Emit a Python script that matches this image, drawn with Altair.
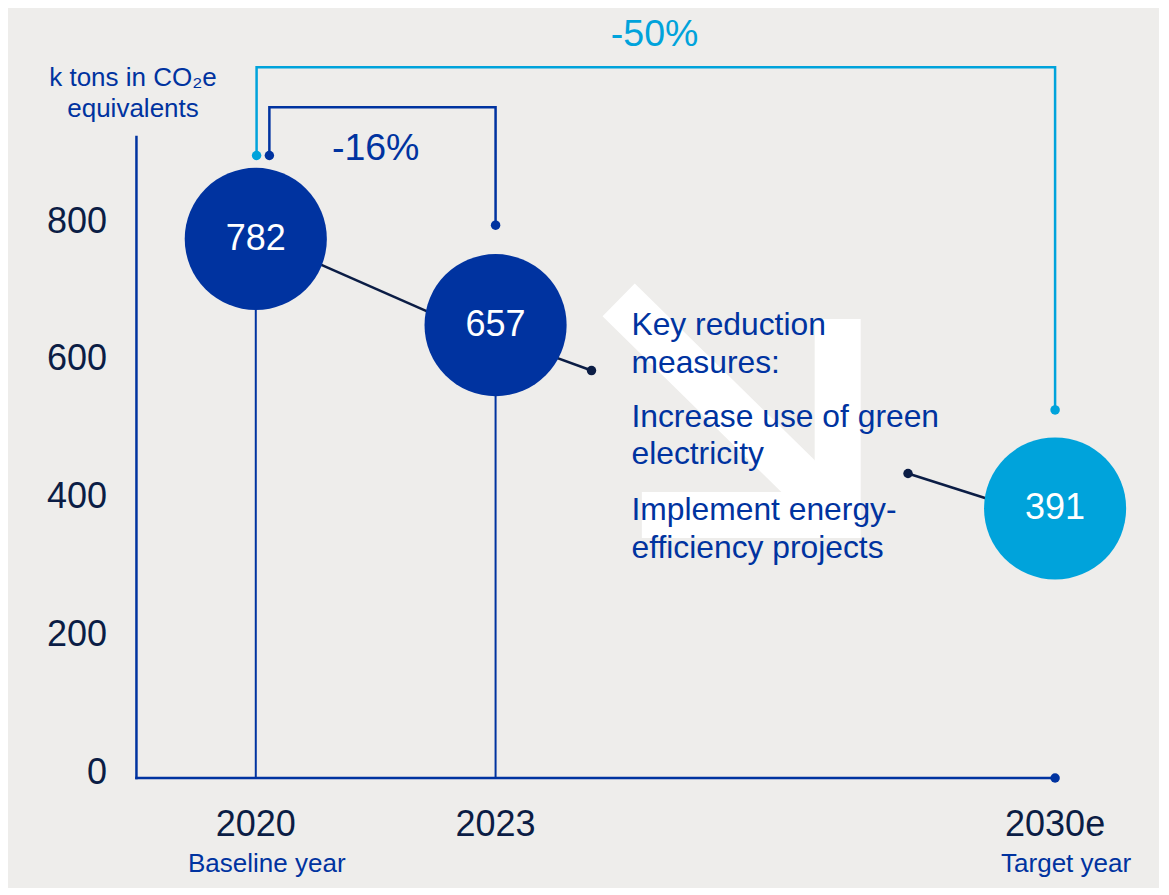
import altair as alt
import pandas as pd

# ---- data ----
years = [2020, 2023, 2030]
year_labels = ["2020", "2023", "2030e"]
year_notes = ["Baseline year", "", "Target year"]
emissions = [782, 657, 391]
circle_kind = ["actual", "actual", "target"]
y_ticks = [0, 200, 400, 600, 800]
y_title = "k tons in CO₂e\nequivalents"

# reduction brackets (data units)
b16_x = [2020.17, 2020.17, 2023.0, 2023.0]
b16_y = [903, 973, 973, 802]
b50_x = [2020.01, 2020.01, 2030.0, 2030.0]
b50_y = [903, 1031, 1031, 534]
pct_labels = ["-16%", "-50%"]
pct_kind = ["actual", "target"]
pct_x = [2021.5, 2024.99]
pct_y = [897, 1062]

# trend connectors
conn_group = ["a", "a", "b", "b", "c", "c"]
conn_x = [2020.7, 2022.3, 2023.5, 2024.2, 2028.16, 2029.3]
conn_y = [750.6, 668.8, 620.8, 591.1, 441.7, 399.6]
conn_dot_x = [2024.2, 2028.16]
conn_dot_y = [591.1, 441.7]

# decorative arrow
arrow_group = ["shaft", "shaft", "head", "head", "head"]
arrow_x = [2024.54, 2027.28, 2027.28, 2027.28, 2024.83]
arrow_y = [693.5, 381.5, 665.9, 381.5, 381.5]

measures = ["Key reduction\nmeasures:", "Increase use of green\nelectricity",
            "Implement energy-\nefficiency projects"]
measure_y = [642.7, 509.7, 374.5]
measure_x = [2024.70, 2024.70, 2024.70]

axis_x0 = 2018.507
axis_top = 930

# ---- styling ----
DARK = "#0033A0"
CYAN = "#00A3DB"
NAVY = "#0B1D45"
BG = "#EEEDEB"
FONT = "Liberation Sans"

xs = alt.Scale(domain=[2016.9, 2031.3], nice=False, zero=False)
ys = alt.Scale(domain=[0, 1117], nice=False, zero=False)
kind_scale = alt.Scale(domain=["actual", "target"], range=[DARK, CYAN])


def X(f):
    return alt.X(f, type="quantitative", scale=xs, axis=None)


def Y(f):
    return alt.Y(f, type="quantitative", scale=ys, axis=None)


main = pd.DataFrame({"year": years, "label": year_labels, "note": year_notes,
                     "value": emissions, "kind": circle_kind})

arrow_df = pd.DataFrame({"g": arrow_group, "x": arrow_x, "y": arrow_y,
                         "i": list(range(len(arrow_x)))})
arrow = alt.Chart(arrow_df).mark_line(color="white", strokeWidth=46, strokeCap="butt",
                                      strokeJoin="miter").encode(
    x=X("x"), y=Y("y"), detail="g:N", order="i:Q")

axes_df = pd.DataFrame({"x": [axis_x0, axis_x0], "x2": [axis_x0, 2030], "y": [0, 0],
                        "y2": [axis_top, 0]})
axes = alt.Chart(axes_df).mark_rule(color=DARK, strokeWidth=2.5, strokeCap="square").encode(
    x=X("x"), x2="x2", y=Y("y"), y2="y2")

axis_end = alt.Chart(pd.DataFrame({"x": [years[-1]], "y": [0]})).mark_circle(
    color=DARK, size=90, opacity=1).encode(x=X("x"), y=Y("y"))

stems = alt.Chart(main.iloc[:2]).mark_rule(color=DARK, strokeWidth=2).encode(
    x=X("year"), y=Y("value"), y2=alt.datum(0))

conn_df = pd.DataFrame({"g": conn_group, "x": conn_x, "y": conn_y})
conn = alt.Chart(conn_df).mark_line(color=NAVY, strokeWidth=2.5).encode(
    x=X("x"), y=Y("y"), detail="g:N")
conn_dots = alt.Chart(pd.DataFrame({"x": conn_dot_x, "y": conn_dot_y})).mark_circle(
    color=NAVY, size=90, opacity=1).encode(x=X("x"), y=Y("y"))

br_df = pd.concat([
    pd.DataFrame({"g": "b16", "kind": "actual", "x": b16_x, "y": b16_y, "i": range(4)}),
    pd.DataFrame({"g": "b50", "kind": "target", "x": b50_x, "y": b50_y, "i": range(4)}),
])
brackets = alt.Chart(br_df).mark_line(strokeWidth=2.5, strokeJoin="miter").encode(
    x=X("x"), y=Y("y"), detail="g:N", order="i:Q",
    color=alt.Color("kind:N", scale=kind_scale, legend=None))
br_ends = br_df[br_df["i"].isin([0, 3])]
bracket_dots = alt.Chart(br_ends).mark_circle(size=90, opacity=1).encode(
    x=X("x"), y=Y("y"), color=alt.Color("kind:N", scale=kind_scale, legend=None))

circles = alt.Chart(main).mark_circle(size=20200, opacity=1).encode(
    x=X("year"), y=Y("value"), color=alt.Color("kind:N", scale=kind_scale, legend=None))
circle_text = alt.Chart(main).mark_text(font=FONT, fontSize=36, color="white",
                                        baseline="middle").encode(
    x=X("year"), y=Y("value"), text=alt.Text("value:Q", format="d"))

pct_df = pd.DataFrame({"t": pct_labels, "kind": pct_kind, "x": pct_x, "y": pct_y})
pct_text = alt.Chart(pct_df).mark_text(font=FONT, fontSize=37.5, baseline="alphabetic").encode(
    x=X("x"), y=Y("y"), text="t:N", color=alt.Color("kind:N", scale=kind_scale, legend=None))

meas_df = pd.DataFrame({"t": measures, "x": measure_x, "y": measure_y})
meas_text = alt.Chart(meas_df).mark_text(font=FONT, fontSize=31.8, color=DARK, align="left",
                                         baseline="alphabetic", lineBreak="\n",
                                         lineHeight=37.7).encode(
    x=X("x"), y=Y("y"), text="t:N")

tick_df = pd.DataFrame({"v": y_ticks})
tick_text = alt.Chart(tick_df).mark_text(font=FONT, fontSize=36, color=NAVY, align="right",
                                         baseline="middle", dy=-5).encode(
    x=alt.value(99), y=Y("v"), text=alt.Text("v:Q", format="d"))

year_text = alt.Chart(main).mark_text(font=FONT, fontSize=36, color=NAVY,
                                      baseline="alphabetic").encode(
    x=X("year"), y=alt.value(828), text="label:N")
note_text = alt.Chart(main).mark_text(font=FONT, fontSize=26, color=DARK,
                                      baseline="alphabetic", dx=11).encode(
    x=X("year"), y=alt.value(864), text="note:N")

title_text = alt.Chart(pd.DataFrame({"t": [y_title]})).mark_text(
    font=FONT, fontSize=26, color=DARK, baseline="alphabetic", lineBreak="\n",
    lineHeight=31).encode(x=alt.value(125), y=alt.value(78), text="t:N")

chart = alt.layer(
    arrow, axes, stems, conn, conn_dots, brackets, bracket_dots, axis_end,
    circles, circle_text, pct_text, meas_text, tick_text, year_text, note_text, title_text
).properties(
    width=1151, height=770,
    autosize=alt.AutoSizeParams(type="none"),
    padding={"left": 0, "top": 0, "right": 0, "bottom": 110},
    background=BG,
).configure_view(stroke=None)

chart.save("out.html", embed_options={"renderer": "svg", "actions": False})
